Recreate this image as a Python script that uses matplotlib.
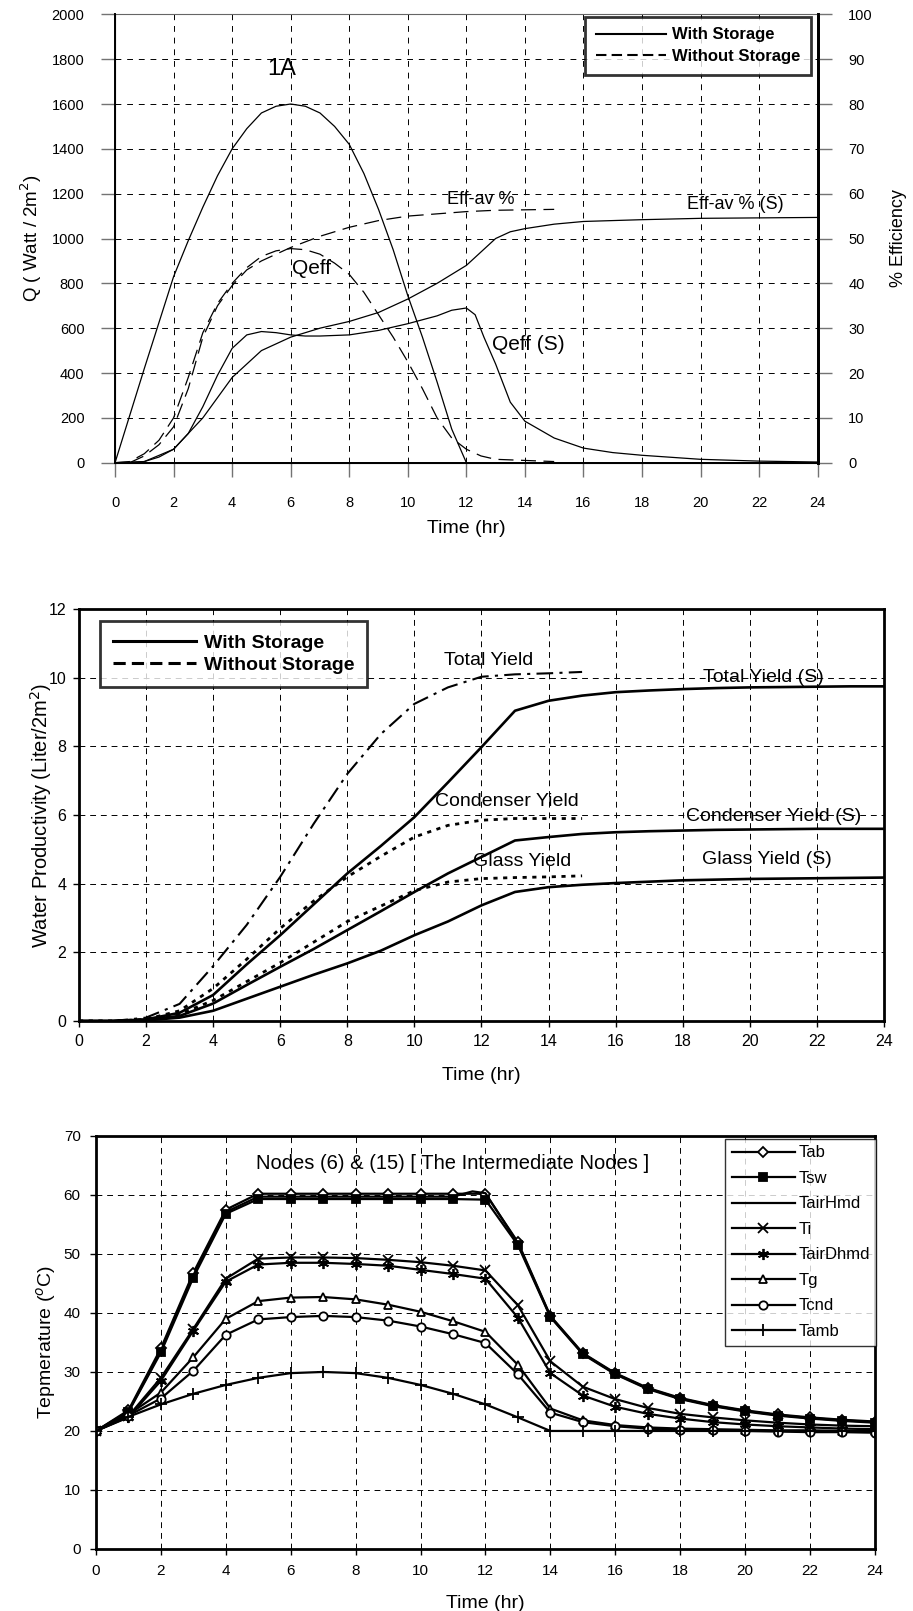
import matplotlib.pyplot as plt
from matplotlib.lines import Line2D

SANS = ['Liberation Sans', 'DejaVu Sans']
plt.rcParams['font.family'] = SANS

# ---------- panel 1A: heat flux / efficiency ----------
t_solar = [0, 0.5, 1, 1.5, 2, 2.5, 3, 3.5, 4, 4.5, 5, 5.5, 6, 6.5, 7, 7.5, 8, 8.5, 9,
           9.5, 10, 10.5, 11, 11.5, 12, 24]
q_solar = [0, 210, 420, 625, 830, 990, 1140, 1280, 1400, 1490, 1560, 1590, 1600, 1590,
           1560, 1500, 1420, 1290, 1130, 950, 745, 560, 360, 150, 0, 0]

t_qeff = [0, 0.5, 1, 1.5, 2, 2.5, 3, 3.5, 4, 4.5, 5, 5.5, 6, 6.5, 7, 7.5, 8, 8.5, 9, 9.5,
          10, 10.5, 11, 11.5, 12, 12.5, 13, 14, 15]
q_eff = [0, 5, 40, 100, 200, 380, 580, 710, 800, 870, 920, 945, 955, 950, 930, 890, 840,
         760, 660, 560, 450, 330, 200, 110, 60, 30, 15, 10, 5]

t_qeff_s = [0, 0.5, 1, 1.5, 2, 2.5, 3, 3.5, 4, 4.5, 5, 5.5, 6, 6.5, 7, 8, 9, 10, 11, 11.5,
            12, 12.3, 12.6, 13, 13.5, 14, 15, 16, 17, 18, 20, 22, 24]
q_eff_s = [0, 0, 5, 25, 60, 130, 250, 390, 510, 570, 585, 580, 570, 565, 565, 570, 590,
           620, 655, 680, 690, 660, 560, 440, 270, 185, 110, 65, 45, 33, 15, 7, 3]

t_eff = [0.5, 1, 1.5, 2, 2.5, 3, 3.5, 4, 4.5, 5, 6, 7, 8, 9, 10, 11, 12, 13, 14, 15]
eff_av = [0, 1.5, 4, 8, 16.5, 28, 35, 39.5, 43, 45, 48, 50.5, 52.5, 54, 55, 55.5, 56,
          56.3, 56.4, 56.5]

t_eff_s = [0, 1, 2, 3, 4, 5, 6, 7, 8, 9, 10, 11, 12, 12.5, 13, 13.5, 14, 15, 16, 18, 20, 22, 24]
eff_av_s = [0, 0.25, 3, 10, 19, 25, 28, 30, 31.5, 33.5, 36.5, 40, 44, 47, 50, 51.5, 52.2,
            53.2, 53.8, 54.2, 54.5, 54.6, 54.7]

# ---------- panel 2: water productivity ----------
hours = list(range(25))
total_s = [0, 0, 0.05, 0.24, 0.76, 1.65, 2.5, 3.4, 4.3, 5.1, 5.94, 6.95, 7.98, 9.04, 9.33,
           9.48, 9.58, 9.63, 9.67, 9.70, 9.72, 9.73, 9.74, 9.75, 9.75]
cond_s = [0, 0, 0.03, 0.15, 0.51, 1.05, 1.58, 2.1, 2.65, 3.2, 3.76, 4.3, 4.78, 5.26, 5.36,
          5.45, 5.5, 5.53, 5.55, 5.57, 5.58, 5.59, 5.6, 5.6, 5.6]
glass_s = [0, 0, 0.02, 0.1, 0.3, 0.65, 1.0, 1.35, 1.68, 2.05, 2.5, 2.9, 3.37, 3.76, 3.9,
           3.97, 4.02, 4.06, 4.1, 4.12, 4.14, 4.15, 4.16, 4.17, 4.18]

t_ns = list(range(16))
total_ns = [0, 0, 0.1, 0.5, 1.6, 2.8, 4.2, 5.75, 7.2, 8.36, 9.24, 9.72, 10.03, 10.1, 10.13, 10.17]
cond_ns = [0, 0, 0.05, 0.3, 0.95, 1.8, 2.7, 3.5, 4.2, 4.8, 5.36, 5.7, 5.85, 5.9, 5.9, 5.9]
glass_ns = [0, 0, 0.03, 0.2, 0.6, 1.15, 1.7, 2.3, 2.9, 3.35, 3.8, 4.05, 4.15, 4.18, 4.2, 4.23]

# ---------- panel 3: node temperatures ----------
temp_names = ['Tab', 'Tsw', 'TairHmd', 'Ti', 'TairDhmd', 'Tg', 'Tcnd', 'Tamb']
t_ab = [20, 23.5, 34, 46.8, 57.5, 60.2, 60.2, 60.2, 60.2, 60.2, 60.2, 60.2, 60.2, 52, 39.5,
        33.2, 29.8, 27.3, 25.6, 24.4, 23.5, 22.8, 22.3, 21.9, 21.6]
t_sw = [20, 23.2, 33.3, 46, 56.8, 59.3, 59.3, 59.3, 59.3, 59.3, 59.3, 59.3, 59.2, 51.5, 39.3,
        33, 29.6, 27.1, 25.4, 24.2, 23.3, 22.6, 22.1, 21.7, 21.4]
hours_hmd = [0, 1, 2, 3, 4, 5, 6, 7, 8, 9, 10, 11, 11.6, 12, 13, 14, 15, 16, 17, 18, 19,
             20, 21, 22, 23, 24]
t_air_hmd = [20, 23.3, 33.6, 46.4, 57.1, 59.7, 59.7, 59.7, 59.7, 59.7, 59.7, 59.7, 60.6,
             60.3, 51.8, 39.4, 33.1, 29.7, 27.2, 25.5, 24.3, 23.4, 22.7, 22.2, 21.8, 21.5]
t_i = [20, 22.5, 29, 37.3, 45.8, 49.2, 49.4, 49.4, 49.3, 49, 48.6, 48, 47.2, 41.3, 31.8,
       27.5, 25.4, 23.9, 22.9, 22.3, 21.8, 21.4, 21.1, 20.9, 20.8]
t_air_dhmd = [20, 22.3, 28.5, 37, 45.3, 48.2, 48.5, 48.5, 48.3, 48, 47.3, 46.6, 45.8, 39.2,
              29.8, 26, 24.1, 22.9, 22.1, 21.5, 21.1, 20.8, 20.6, 20.4, 20.3]
t_g = [20, 22.8, 26.5, 32.5, 39, 42, 42.6, 42.7, 42.3, 41.4, 40.2, 38.6, 36.8, 31.2, 23.8,
       21.8, 21, 20.6, 20.4, 20.3, 20.2, 20.1, 20.1, 20, 20]
t_cnd = [20, 22.6, 25.5, 30.2, 36.3, 38.9, 39.3, 39.5, 39.3, 38.7, 37.7, 36.4, 34.9, 29.6,
         23.1, 21.5, 20.8, 20.4, 20.2, 20.1, 20, 19.9, 19.8, 19.8, 19.7]
t_amb = [20, 22.4, 24.5, 26.3, 27.8, 29, 29.8, 30, 29.8, 29, 27.8, 26.3, 24.5, 22.3, 20,
         20, 20, 20, 20, 20, 20, 20, 20, 20, 20]
temp_x = [hours, hours, hours_hmd, hours, hours, hours, hours, hours]
temp_series = [t_ab, t_sw, t_air_hmd, t_i, t_air_dhmd, t_g, t_cnd, t_amb]

x_ticks = list(range(0, 25, 2))
DASH = (0, (12, 6))


def boxed_legend(leg, lw):
    frame = leg.get_frame()
    frame.set_edgecolor('k')
    frame.set_linewidth(lw)


def panel_heat(ax):
    ax.plot(t_solar, q_solar, color='k', lw=0.9)
    ax.plot(t_qeff, q_eff, color='k', lw=0.9, ls=DASH)
    ax.plot(t_qeff_s, q_eff_s, color='k', lw=0.9)
    ax.axhline(0, color='k', lw=2)
    ax.set_xlim(0, 24)
    ax.set_ylim(0, 2000)
    ax.set_xticks(x_ticks)
    ax.set_yticks(range(0, 2001, 200))
    ax.grid(True, color='k', lw=0.7, ls=(0, (6, 6)))
    ax.tick_params(direction='out', length=10, width=1, color='0.45',
                   labelsize=10.5, pad=12)
    ax.tick_params(axis='x', pad=14)
    for s in ['left', 'bottom']:
        ax.spines[s].set_linewidth(1.4)
    ax.spines['top'].set_color('0.4')
    ax.spines['right'].set_linewidth(2)
    ax.set_xlabel('Time (hr)', fontsize=14)
    ax.xaxis.set_label_coords(0.5, -0.128)
    ax.set_ylabel('Q ( Watt / 2m$^2$)', fontsize=13.5)
    ax.yaxis.set_label_coords(-0.101, 0.5)

    axr = ax.twinx()
    axr.plot(t_eff, eff_av, color='k', lw=0.9, ls=DASH)
    axr.plot(t_eff_s, eff_av_s, color='k', lw=0.9)
    axr.set_ylim(0, 100)
    axr.set_yticks(range(0, 101, 10))
    axr.tick_params(direction='out', length=10, width=1, color='0.45',
                    labelsize=10.5, pad=12)
    axr.spines['right'].set_linewidth(2)
    axr.spines['top'].set_visible(False)
    axr.set_ylabel('% Efficiency', fontsize=13)
    axr.yaxis.set_label_coords(1.103, 0.5)

    ax.text(5.7, 1757, '1A', fontsize=17, ha='center', va='center')
    ax.text(12.5, 1173, 'Eff-av %', fontsize=13, ha='center', va='center')
    ax.text(21.2, 1150, 'Eff-av % (S)', fontsize=13, ha='center', va='center')
    ax.text(6.7, 865, 'Qeff', fontsize=15, ha='center', va='center')
    ax.text(14.1, 527, 'Qeff (S)', fontsize=15, ha='center', va='center')

    handles = [Line2D([], [], color='k', lw=1.5),
               Line2D([], [], color='k', lw=1.5, ls=(0, (5, 2.5)))]
    leg = axr.legend(handles, ['With Storage', 'Without Storage'],
                     loc='upper left', bbox_to_anchor=(0.669, 0.995),
                     borderaxespad=0, fancybox=False, handlelength=4.2,
                     handletextpad=0.35, labelspacing=0.4, borderpad=0.65,
                     prop={'weight': 'bold', 'size': 12})
    boxed_legend(leg, 2)


def panel_water(ax):
    ax.plot(hours, total_s, color='k', lw=1.9)
    ax.plot(hours, cond_s, color='k', lw=1.9)
    ax.plot(hours, glass_s, color='k', lw=1.9)
    ax.plot(t_ns, total_ns, color='k', lw=1.5, ls=(0, (8, 3, 1.5, 3)))
    ax.plot(t_ns, cond_ns, color='k', lw=2, ls=(0, (1.5, 2)))
    ax.plot(t_ns, glass_ns, color='k', lw=2, ls=(0, (1.5, 2)))
    ax.set_xlim(0, 24)
    ax.set_ylim(0, 12)
    ax.set_xticks(x_ticks)
    ax.set_yticks(range(0, 13, 2))
    ax.grid(True, color='k', lw=0.7, ls=(0, (6, 5)))
    ax.tick_params(direction='out', length=4, width=1, labelsize=11.5, pad=5)
    for s in ax.spines.values():
        s.set_linewidth(2)
    ax.set_xlabel('Time (hr)', fontsize=14)
    ax.xaxis.set_label_coords(0.5, -0.112)
    ax.set_ylabel('Water Productivity (Liter/2m$^2$)', fontsize=14.5)
    ax.yaxis.set_label_coords(-0.031, 0.5)

    labels = [(12.2, 10.5, 'Total Yield'), (20.4, 10.0, 'Total Yield (S)'),
              (12.75, 6.4, 'Condenser Yield'), (20.7, 5.96, 'Condenser Yield (S)'),
              (13.2, 4.66, 'Glass Yield'), (20.5, 4.7, 'Glass Yield (S)')]
    for x, y, s in labels:
        ax.text(x, y, s, fontsize=14, ha='center', va='center')

    handles = [Line2D([], [], color='k', lw=2.2),
               Line2D([], [], color='k', lw=2.2, ls=(0, (4, 2)))]
    leg = ax.legend(handles, ['With Storage', 'Without Storage'],
                    loc='upper left', bbox_to_anchor=(0.026, 0.97),
                    borderaxespad=0, fancybox=False, handlelength=4.3,
                    handletextpad=0.4, labelspacing=0.25, borderpad=0.65,
                    prop={'weight': 'bold', 'size': 14})
    boxed_legend(leg, 2)


def panel_temp(ax):
    markers = ['D', 's', None, 'x', (6, 2, 0), '^', 'o', '+']
    faces = ['w', 'k', 'k', 'k', 'k', 'w', 'w', 'k']
    sizes = [5, 6, 5, 7, 8, 6, 6, 9]
    for name, xs, vals, m, fc, ms in zip(temp_names, temp_x, temp_series, markers, faces, sizes):
        ax.plot(xs, vals, color='k', lw=1.6, marker=m, ms=ms, mfc=fc,
                mec='k', mew=1.3, label=name)
    ax.set_xlim(0, 24)
    ax.set_ylim(0, 70)
    ax.set_xticks(x_ticks)
    ax.set_yticks(range(0, 71, 10))
    ax.grid(True, color='k', lw=0.7, ls=(0, (6, 5)))
    ax.tick_params(direction='out', length=4, width=1, labelsize=11, pad=7)
    for s in ax.spines.values():
        s.set_linewidth(2)
    ax.set_xlabel('Time (hr)', fontsize=14)
    ax.xaxis.set_label_coords(0.5, -0.112)
    ax.set_ylabel('Tepmerature ($^{o}$C)', fontsize=14)
    ax.yaxis.set_label_coords(-0.049, 0.5)
    ax.text(11.0, 65.4, 'Nodes (6) & (15) [ The Intermediate Nodes ]',
            fontsize=14.5, ha='center', va='center')

    leg = ax.legend(loc='upper right', bbox_to_anchor=(1.002, 0.993),
                    borderaxespad=0, fancybox=False, handlelength=3.8,
                    handletextpad=0.2, labelspacing=0.63, borderpad=0.4,
                    prop={'size': 12})
    boxed_legend(leg, 1)


fig = plt.figure(figsize=(9.13, 16.11), dpi=100)
ax1 = fig.add_axes([0.126, 0.7128, 0.7696, 0.2783])
ax2 = fig.add_axes([0.0865, 0.3662, 0.8817, 0.2557])
ax3 = fig.add_axes([0.1051, 0.0385, 0.8532, 0.2564])

panel_heat(ax1)
panel_water(ax2)
panel_temp(ax3)

fig.savefig('out.png', dpi=100)
